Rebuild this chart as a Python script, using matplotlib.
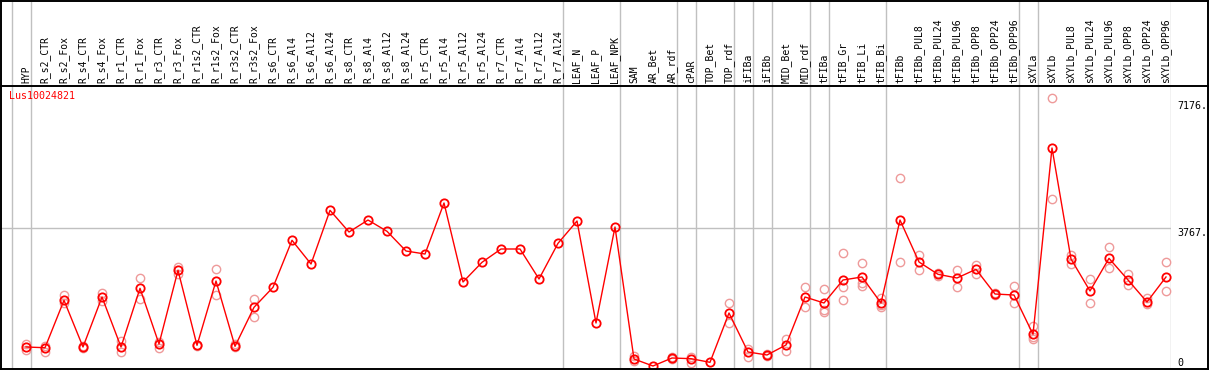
import matplotlib
matplotlib.use("Agg")
import matplotlib.pyplot as plt
from matplotlib.lines import Line2D
import matplotlib.transforms as mtransforms

title = "Lus10024821"

samples = ["HYP", "R_s2_CTR", "R_s2_Fox", "R_s4_CTR", "R_s4_Fox", "R_r1_CTR", "R_r1_Fox",
           "R_r3_CTR", "R_r3_Fox", "R_r1s2_CTR", "R_r1s2_Fox", "R_r3s2_CTR", "R_r3s2_Fox",
           "R_s6_CTR", "R_s6_Al4", "R_s6_Al12", "R_s6_Al24", "R_s8_CTR", "R_s8_Al4",
           "R_s8_Al12", "R_s8_Al24", "R_r5_CTR", "R_r5_Al4", "R_r5_Al12", "R_r5_Al24",
           "R_r7_CTR", "R_r7_Al4", "R_r7_Al12", "R_r7_Al24", "LEAF_N", "LEAF_P", "LEAF_NPK",
           "SAM", "AR_Bet", "AR_rdf", "cPAR", "TOP_Bet", "TOP_rdf", "iFIBa", "iFIBb",
           "MID_Bet", "MID_rdf", "tFIBa", "tFIB_Gr", "tFIB_Li", "tFIB_Bi", "tFIBb",
           "tFIBb_PUL8", "tFIBb_PUL24", "tFIBb_PUL96", "tFIBb_OPP8", "tFIBb_OPP24",
           "tFIBb_OPP96", "sXYLa", "sXYLb", "sXYLb_PUL8", "sXYLb_PUL24", "sXYLb_PUL96",
           "sXYLb_OPP8", "sXYLb_OPP24", "sXYLb_OPP96"]

means = [565, 546, 1821, 565, 1910, 565, 2144, 646, 2629, 610, 2341, 583, 1633,
         2171, 3436, 2798, 4243, 3659, 3982, 3678, 3148, 3067, 4440, 2314, 2844,
         3202, 3202, 2395, 3355, 3955, 1211, 3794,
         242, 54, 269, 251, 153, 1480, 431, 350, 619, 1910, 1749, 2368, 2449, 1749,
         3982, 2852, 2521, 2422, 2655, 1991, 1964, 907, 5920, 2933, 2072, 2951,
         2368, 1776, 2449]

replicates = [[640, 480], [580, 430], [1972, 1741], [580, 550], [2009, 1812],
              [726, 430], [2413, 1848], [709, 546], [2727, 2529], [620, 600],
              [2655, 1972], [646, 560], [1848, 1381],
              [], [], [], [], [], [], [], [], [], [], [], [], [], [], [], [], [], [], [],
              [331, 200], [], [290, 240], [300, 126], [], [1741, 1211], [502, 305],
              [380, 330], [780, 448], [2171, 1633], [2117, 1561, 1516],
              [3086, 2171, 1830], [2825, 2278, 2206], [1875, 1650, 1700],
              [5104, 2861], [3040, 2629], [2560, 2480], [2629, 2180], [2771, 2529],
              [2010, 1970], [2206, 1741], [1121, 771, 830], [7256, 4547],
              [3040, 2798], [2386, 1741], [3255, 2690], [2521, 2224], [1875, 1714],
              [2844, 2063]]

# group separators: after these sample indices (-1 = before first)
group_ends = [-1, 0, 28, 31, 34, 35, 37, 38, 39, 41, 42, 45, 52, 53, 60]

tick_values = [0, 3767, 7176]
tick_labels = ["0", "3767.", "7176."]

W, H = 1209, 370
fig = plt.figure(figsize=(W / 100, H / 100), dpi=100)

def px_rect(x0, y0, x1, y1):
    return [x0 / W, 1 - y1 / H, (x1 - x0) / W, (y1 - y0) / H]

mono = "DejaVu Sans Mono"
GRAY = "#c0c0c0"
n = len(samples)
xs = list(range(n))
xlim = (-1.316, 60.25)

ax = fig.add_axes(px_rect(1, 86, 1170.75, 368.5))
ax.set_xlim(*xlim)
ax.set_ylim(-13.5, 7588)
ax.axis("off")

hdr = fig.add_axes(px_rect(1, 0, 1170.75, 85))
hdr.set_xlim(*xlim)
hdr.set_ylim(0, 1)
hdr.axis("off")

for g in group_ends:
    ax.axvline(g + 0.25, color=GRAY, lw=1.0, zorder=1)
    hdr.axvline(g + 0.25, color=GRAY, lw=1.0, zorder=1)

ax.axhline(tick_values[1], color=GRAY, lw=1.0, zorder=1)

# replicates
rx, ry = [], []
for i, reps in enumerate(replicates):
    for v in reps:
        rx.append(i)
        ry.append(v)
ax.plot(rx, ry, ls="none", marker="o", ms=6, mfc="none", mec="#ee9a9a", mew=1.0,
        zorder=2, clip_on=False)

ax.plot(xs, means, color="#ff0000", lw=1.0, marker="o", ms=6, mfc="none",
        mec="#ff0000", mew=1.3, zorder=3, clip_on=False)

ax.text(0.0065, 0.965, title, transform=ax.transAxes, color="#ff0000",
        fontsize=7.2, family=mono, ha="left", va="center")

htrans = mtransforms.blended_transform_factory(hdr.transData, hdr.transAxes)
for i, s in enumerate(samples):
    hdr.text(i, 2 / 85, s, transform=htrans, rotation=90, ha="center", va="bottom",
             fontsize=7, family=mono, color="black")

rtrans = mtransforms.blended_transform_factory(fig.transFigure, ax.transData)
for v, lab in zip(tick_values, tick_labels):
    va = "bottom" if v == 0 else "top"
    ax.text(1177 / W, v, lab, transform=rtrans, ha="left", va=va,
            fontsize=7.2, family=mono, color="black")

# outer border and header separator
lk = dict(color="black", lw=1.4, transform=fig.transFigure)
fig.add_artist(Line2D([1 / W, 1 / W], [0, 1], **lk))
fig.add_artist(Line2D([1207.5 / W, 1207.5 / W], [0, 1], **lk))
fig.add_artist(Line2D([0, 1], [1 - 0.5 / H, 1 - 0.5 / H], **lk))
fig.add_artist(Line2D([0, 1], [1 - 368.8 / H, 1 - 368.8 / H], **lk))
fig.add_artist(Line2D([0, 1], [1 - 85.5 / H, 1 - 85.5 / H], **lk))

fig.savefig("out.png", dpi=100, facecolor="white")
